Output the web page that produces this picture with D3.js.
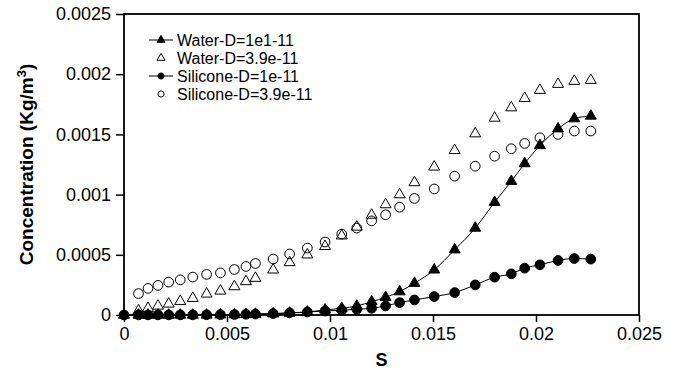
<!DOCTYPE html>
<html>
<head>
<meta charset="utf-8">
<script src="https://cdn.jsdelivr.net/npm/d3@7"></script>
<style>
  body { margin: 0; background: #fff; }
  svg { display: block; font-family: "Liberation Sans", Arial, sans-serif; }
</style>
</head>
<body>
<div id="chart"></div>
<script>
// S positions shared by every series
const sValues = [0, 0.000704, 0.001165, 0.00165, 0.00217, 0.00273, 0.00334, 0.00401,
  0.00468, 0.00536, 0.00592, 0.00638, 0.00724, 0.00804, 0.0089, 0.00976, 0.01057,
  0.0113, 0.01202, 0.0127, 0.01338, 0.0141, 0.01506, 0.01605, 0.01705, 0.01799,
  0.0188, 0.01945, 0.02019, 0.02107, 0.02186, 0.02266];

// open series have no point at s = 0 (null)
const water39 = [null, 0.000036, 0.000056, 0.000075, 0.000092, 0.000114, 0.000139, 0.000175,
  0.0002, 0.000236, 0.000278, 0.000306, 0.000375, 0.000436, 0.0005, 0.00057, 0.000658,
  0.000731, 0.00083, 0.000917, 0.001, 0.0011, 0.00123, 0.001367, 0.001506, 0.001636,
  0.001722, 0.0018, 0.001867, 0.001917, 0.001942, 0.00195];

const silicone39 = [null, 0.000178, 0.000221, 0.000246, 0.000273, 0.000292, 0.000315, 0.000337,
  0.00035, 0.000378, 0.000403, 0.000428, 0.000465, 0.000507, 0.000556, 0.000606, 0.000672,
  0.000722, 0.000782, 0.000833, 0.000895, 0.000968, 0.001047, 0.001153, 0.001236, 0.001319,
  0.001381, 0.001425, 0.001472, 0.0015, 0.001528, 0.001528];

const water1 = [0, 0, 0, 0, 0, 0, 0, 0, 0.000002, 0.000003, 0.000005, 0.000007, 0.00001,
  0.000016, 0.000025, 0.000042, 0.000056, 0.000075, 0.000111, 0.000147, 0.000194, 0.000264,
  0.000375, 0.000542, 0.000722, 0.000936, 0.001111, 0.001258, 0.001408, 0.001547, 0.001631,
  0.001653];

const silicone1 = [0, 0.000001, 0.000001, 0.000001, 0.000001, 0.000001, 0.000001, 0.000002,
  0.000003, 0.000004, 0.000006, 0.000008, 0.000012, 0.000018, 0.000025, 0.000033, 0.00004,
  0.000047, 0.000056, 0.000075, 0.000103, 0.000125, 0.000153, 0.000186, 0.00025, 0.000314,
  0.000342, 0.000389, 0.000417, 0.000453, 0.000469, 0.000464];

const legendLabels = ["Water-D=1e1-11", "Water-D=3.9e-11", "Silicone-D=1e-11", "Silicone-D=3.9e-11"];

const xTicks = [0, 0.005, 0.01, 0.015, 0.02, 0.025];
const xTickLabels = ["0", "0.005", "0.01", "0.015", "0.02", "0.025"];
const yTicks = [0, 0.0005, 0.001, 0.0015, 0.002, 0.0025];
const yTickLabels = ["0", "0.0005", "0.001", "0.0015", "0.002", "0.0025"];

const width = 680, height = 380;
const margin = { top: 14, right: 41, bottom: 65, left: 124 };
const innerW = width - margin.left - margin.right;
const innerH = height - margin.top - margin.bottom;

const svg = d3.select("#chart").append("svg")
    .attr("width", width)
    .attr("height", height);

svg.append("rect").attr("width", width).attr("height", height).attr("fill", "#fff");

const g = svg.append("g").attr("transform", `translate(${margin.left},${margin.top})`);

const x = d3.scaleLinear().domain([0, 0.025]).range([0, innerW]);
const y = d3.scaleLinear().domain([0, 0.0025]).range([innerH, 0]);

// axes
const xAxis = d3.axisBottom(x)
    .tickValues(xTicks)
    .tickFormat((d, i) => xTickLabels[i])
    .tickSize(7)
    .tickPadding(5);
const yAxis = d3.axisLeft(y)
    .tickValues(yTicks)
    .tickFormat((d, i) => yTickLabels[i])
    .tickSize(8)
    .tickPadding(5);

const gx = g.append("g").attr("transform", `translate(0,${innerH})`).call(xAxis);
const gy = g.append("g").call(yAxis);

[gx, gy].forEach(a => {
    a.select(".domain").remove();
    a.selectAll("line").attr("stroke", "#000").attr("stroke-width", 1.5);
    a.selectAll("text")
        .attr("fill", "#000")
        .style("font-size", "18px");
});

// frame
g.append("rect")
    .attr("width", innerW)
    .attr("height", innerH)
    .attr("fill", "none")
    .attr("stroke", "#000")
    .attr("stroke-width", 1.8);

// axis titles
svg.append("text")
    .attr("x", margin.left + innerW / 2)
    .attr("y", 366)
    .attr("text-anchor", "middle")
    .style("font-size", "18px")
    .style("font-weight", "bold")
    .text("S");

const yTitle = svg.append("text")
    .attr("transform", `translate(33,${margin.top + innerH / 2}) rotate(-90)`)
    .attr("text-anchor", "middle")
    .style("font-size", "19px")
    .style("font-weight", "bold");
yTitle.append("tspan").text("Concentration (Kg/m");
yTitle.append("tspan").attr("dy", -7).style("font-size", "13px").text("3");
yTitle.append("tspan").attr("dy", 7).text(")");

// series
const series = [
    { name: legendLabels[1], values: water39, shape: d3.symbolTriangle, filled: false, line: false },
    { name: legendLabels[3], values: silicone39, shape: d3.symbolCircle, filled: false, line: false },
    { name: legendLabels[0], values: water1, shape: d3.symbolTriangle, filled: true, line: true },
    { name: legendLabels[2], values: silicone1, shape: d3.symbolCircle, filled: true, line: true }
];

const markerSize = s => s === d3.symbolTriangle ? 52 : 74;

const line = d3.line()
    .x(d => x(d[0]))
    .y(d => y(d[1]))
    .curve(d3.curveMonotoneX);

series.forEach(s => {
    const pts = sValues.map((v, i) => [v, s.values[i]]).filter(d => d[1] != null);
    if (s.line) {
        g.append("path")
            .datum(pts)
            .attr("d", line)
            .attr("fill", "none")
            .attr("stroke", "#000")
            .attr("stroke-width", 1);
    }
    g.append("g").selectAll("path")
        .data(pts)
        .enter()
        .append("path")
        .attr("transform", d => `translate(${x(d[0])},${y(d[1])})`)
        .attr("d", d3.symbol().type(s.shape).size(markerSize(s.shape)))
        .attr("fill", s.filled ? "#000" : "none")
        .attr("stroke", "#000")
        .attr("stroke-width", 1);
});

// legend
const legendOrder = [series[2], series[0], series[3], series[1]];
const legend = svg.append("g").attr("transform", "translate(149,40)");
legendOrder.forEach((s, i) => {
    const row = legend.append("g").attr("transform", `translate(0,${i * 18})`);
    if (s.line) {
        row.append("line")
            .attr("x1", 0).attr("x2", 24)
            .attr("stroke", "#000").attr("stroke-width", 1);
    }
    row.append("path")
        .attr("transform", "translate(12,0)")
        .attr("d", d3.symbol().type(s.shape).size(s.shape === d3.symbolTriangle ? 28 : 30))
        .attr("fill", s.filled ? "#000" : "none")
        .attr("stroke", "#000")
        .attr("stroke-width", 1);
    row.append("text")
        .attr("x", 28)
        .attr("dy", "0.35em")
        .style("font-size", "16px")
        .text(s.name);
});
</script>
</body>
</html>
